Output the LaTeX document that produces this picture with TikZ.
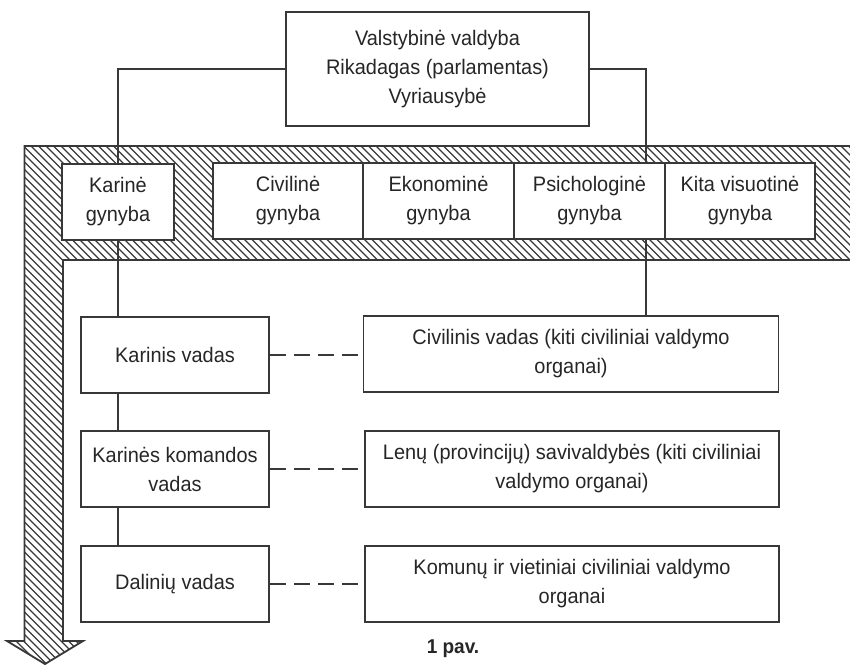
\documentclass[tikz,border=0pt]{standalone}
\usepackage{fontspec}
\setmainfont{Liberation Sans}[FakeStretch=0.95]
\definecolor{linec}{HTML}{383838}
\definecolor{textc}{HTML}{262626}
\begin{document}
\begin{tikzpicture}[x=1pt,y=-1pt,
  box/.style={draw=linec, line width=1.8pt, fill=white, align=center, inner sep=0pt,
    text=textc, font=\fontsize{21}{29}\selectfont},
  conn/.style={draw=linec, line width=1.8pt},
  dashconn/.style={draw=linec, line width=1.8pt, dash pattern=on 16pt off 8pt},
  hatch/.style={draw=linec, line width=1.1pt},
  bandline/.style={draw=linec, line width=1.8pt, line join=miter}]
\useasboundingbox (0,0) rectangle (850,665);

% hatched L-shaped arrow band
\begin{scope}
  \clip (24.5,146) -- (852,146) -- (852,260) -- (63,260) -- (63,641) -- (83,641)
        -- (45,664) -- (7,641) -- (24.5,641) -- cycle;
  \foreach \i in {-560,-552.5,...,860} {
    \draw[hatch] (\i,140) -- ++(540,540);
  }
\end{scope}
\draw[bandline] (852,146) -- (24.5,146) -- (24.5,641) -- (7,641) -- (45,664)
      -- (83,641) -- (63,641) -- (63,260) -- (852,260);

% top box
\node[box, minimum width=303pt, minimum height=114pt] (top) at (437.5,69)
  {Valstybinė valdyba\\Rikadagas (parlamentas)\\Vyriausybė};

% boxes in band
\node[box, minimum width=112pt, minimum height=76pt] (karg) at (118,202) {Karinė\\gynyba};
\node[box, minimum width=150pt, minimum height=76pt] (civg) at (288,201) {Civilinė\\gynyba};
\node[box, minimum width=151pt, minimum height=76pt] (ekg) at (438.5,201) {Ekonominė\\gynyba};
\node[box, minimum width=151pt, minimum height=76pt] (psg) at (589.5,201) {Psichologinė\\gynyba};
\node[box, minimum width=150pt, minimum height=76pt] (kitg) at (740,201) {Kita visuotinė\\gynyba};

% lower boxes
\node[box, minimum width=188pt, minimum height=76pt] (kv) at (175,355) {Karinis vadas};
\node[box, minimum width=188pt, minimum height=76pt] (kkv) at (175,469) {Karinės komandos\\vadas};
\node[box, minimum width=188pt, minimum height=76pt] (dv) at (175,584) {Dalinių vadas};
\node[box, minimum width=415pt, minimum height=76pt] (cv) at (571,354) {Civilinis vadas (kiti civiliniai valdymo\\organai)};
\node[box, minimum width=414pt, minimum height=76pt] (lv) at (572,469) {Lenų (provincijų) savivaldybės (kiti civiliniai\\valdymo organai)};
\node[box, minimum width=414pt, minimum height=76pt] (kom) at (572,584) {Komunų ir vietiniai civiliniai valdymo\\organai};

% caption
\node[text=textc, font=\bfseries\fontsize{20}{22}\selectfont, inner sep=0pt] (cap) at (453,649) {1 pav.};

% connectors
\coordinate (pr) at (646,0);
\draw[conn] (top.west) -| (karg.north);
\draw[conn] (top.east) -| (psg.north -| pr);
\draw[conn] (psg.south -| pr) -- (cv.north -| pr);
\draw[conn] (karg.south) -- (karg.south |- kv.north);
\draw[conn] (karg.south |- kv.south) -- (karg.south |- kkv.north);
\draw[conn] (karg.south |- kkv.south) -- (karg.south |- dv.north);

% dashed links
\draw[dashconn] (kv.east) -- (kv.east -| cv.west);
\draw[dashconn] (kkv.east) -- (kkv.east -| lv.west);
\draw[dashconn] (dv.east) -- (dv.east -| kom.west);
\end{tikzpicture}
\end{document}
